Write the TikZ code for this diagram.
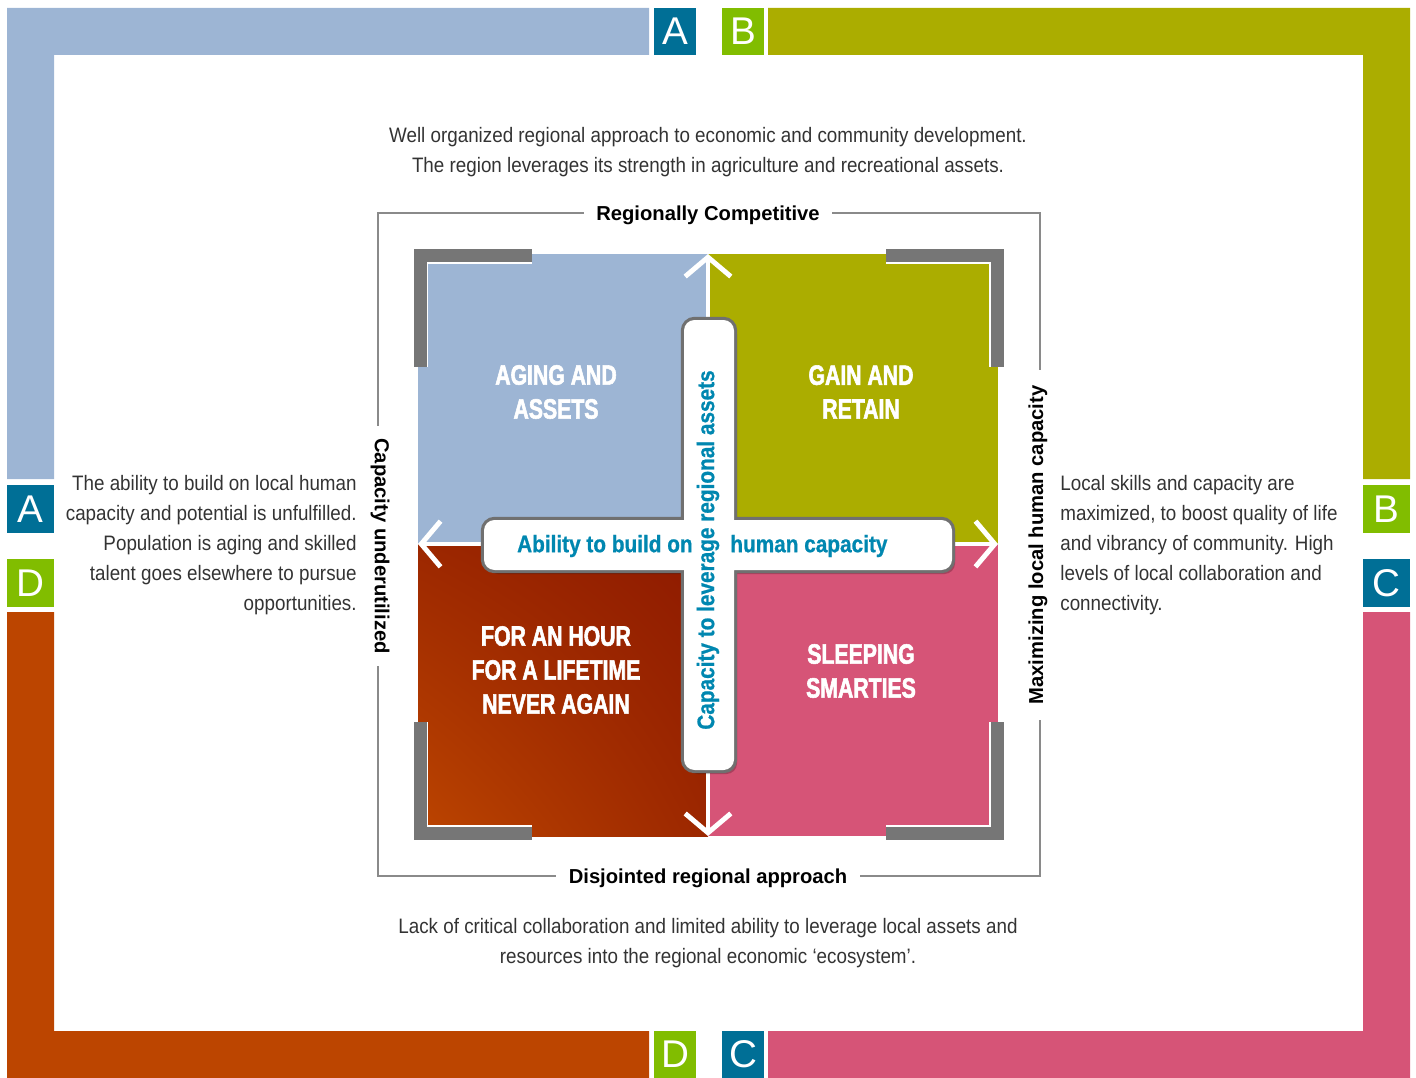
\documentclass[tikz,border=0pt]{standalone}
\usepackage{fontspec}
\setmainfont{Liberation Sans}
\newfontfamily\bodyfont{Liberation Sans}[FakeStretch=0.90]
\newfontfamily\quadfont{Liberation Sans}[FakeStretch=0.76, BoldFeatures={FakeBold=2}]
\newfontfamily\crossfont{Liberation Sans}[FakeStretch=0.87, BoldFeatures={FakeBold=0.8}]
\usetikzlibrary{arrows.meta,shadings}

\definecolor{areablue}{HTML}{9DB5D4}
\definecolor{areaolive}{HTML}{ABAD00}
\definecolor{areapink}{HTML}{D65477}
\definecolor{arearust}{HTML}{BC4500}
\definecolor{areadark}{HTML}{8E1A00}
\definecolor{badgeteal}{HTML}{006F96}
\definecolor{badgegreen}{HTML}{81BD00}
\definecolor{bracketgray}{HTML}{767676}
\definecolor{crossgray}{HTML}{707070}
\definecolor{crossblue}{HTML}{0087B0}
\definecolor{bodygray}{HTML}{333333}
\definecolor{rulegray}{HTML}{8A8A8A}

\begin{document}
\begin{tikzpicture}[x=0.02cm, y=-0.02cm,
  bodytext/.style={text=bodygray, font=\bodyfont\fontsize{11.9}{17}\selectfont, inner sep=0pt},
  quadtitle/.style={text=white, align=center, font=\quadfont\bfseries\fontsize{15.9}{19.3}\selectfont},
  crosstext/.style={text=crossblue, font=\crossfont\bfseries\fontsize{13.6}{16}\selectfont, inner sep=0pt},
  axislabel/.style={fill=white, text=black, font=\bfseries\fontsize{11.5}{14}\selectfont, inner xsep=7pt, inner ysep=2pt},
  badge/.style={fill=#1, text=white, inner sep=0pt, minimum height=0.95cm, font=\fontsize{22}{22}\selectfont},
  bracket/.style={draw=white, double=bracketgray, double distance=7.4pt, line width=0.9pt},
  axis/.style={draw=white, line width=2.8pt, -{Straight Barb[length=11pt, width=26pt]}},
]
\useasboundingbox (0,0) rectangle (1416,1078);
\def\acrossbar{(484,520) rectangle (952,570)}
\def\upbar{(684,320) rectangle (734,770)}

% outer frame
\fill[areablue] (7,8) rectangle (649,55) (7,8) rectangle (54,479);
\fill[areaolive] (768,8) rectangle (1410,55) (1363,8) rectangle (1410,479);
\fill[arearust] (7,612) rectangle (54,1078) (7,1031) rectangle (649,1078);
\fill[areapink] (768,1031) rectangle (1410,1078) (1363,612) rectangle (1410,1078);
\foreach \x/\y/\w/\c/\t/\n in {675/31.5/0.84/badgeteal/A/topA, 743/31.5/0.84/badgegreen/B/topB,
  30.5/509/0.94/badgeteal/A/leftA, 30.5/583/0.94/badgegreen/D/leftD,
  1386.5/509/0.94/badgegreen/B/rightB, 1386.5/583/0.94/badgeteal/C/rightC,
  675/1054.5/0.84/badgegreen/D/bottomD, 743/1054.5/0.84/badgeteal/C/bottomC}
  \node[badge=\c, minimum width=\w cm] (badge\n) at (\x,\y) {\t};

% quadrants
\fill[areablue] (418,254) rectangle (708,544);
\fill[areaolive] (708,254) rectangle (998,544);
\fill[areapink] (708,544) rectangle (998,836);
\shade[lower left=arearust, upper right=areadark, upper left=areadark!70!arearust,
  lower right=areadark!70!arearust] (418,544) rectangle (708,836);

% axes
\coordinate (mid) at (708,544);
\coordinate (northtip) at (708,254);
\coordinate (southtip) at (708,836);
\coordinate (westtip) at (418,544);
\coordinate (easttip) at (998,544);
\foreach \tip in {northtip,southtip,westtip,easttip}
  \draw[axis] (mid) -- (\tip);

% corner brackets
\draw[bracket] (532,255.5) -- (420,255.5) -- (420,367);
\draw[bracket] (886,255.5) -- (997.5,255.5) -- (997.5,367);
\draw[bracket] (420,722) -- (420,833) -- (532,833);
\draw[bracket] (997.5,722) -- (997.5,833) -- (886,833);

% the cross
\begin{scope}[rounded corners=6pt]
\begin{scope}[shift={(3,4)}]
\fill[black, opacity=.22] \acrossbar \upbar;
\end{scope}
\draw[crossgray, line width=3.6pt] \acrossbar \upbar;
\fill[white] \acrossbar \upbar;
\end{scope}
\node[crosstext, anchor=east] (buildleft) at (693,546) {Ability to build on};
\node[crosstext, anchor=west] (buildright) at (730,546) {human capacity};
\node[crosstext, rotate=90] (leverage) at (708,550) {Capacity to leverage regional assets};

\node[quadtitle] (aging) at (556,392) {AGING AND\\ASSETS};
\node[quadtitle] (gain) at (861,392) {GAIN AND\\RETAIN};
\node[quadtitle] (hour) at (556,670) {FOR AN HOUR\\FOR A LIFETIME\\NEVER AGAIN};
\node[quadtitle] (sleeping) at (861,671) {SLEEPING\\SMARTIES};

% inner frame and its labels
\draw[rulegray, line width=0.8pt] (378,213) rectangle (1040,876);
\node[axislabel] (competitive) at (708,215) {Regionally Competitive};
\node[axislabel] (disjointed) at (708,878) {Disjointed regional approach};
\node[axislabel, rotate=-90] (underused) at (380,546) {Capacity underutilized};
\node[axislabel, rotate=90, inner xsep=9pt] (maximizing) at (1038,545) {Maximizing local human capacity};

% notes
\node[bodytext, align=center] (topnote) at (708,152) {Well organized regional approach to economic and community development.\\The region leverages its strength in agriculture and recreational assets.};
\node[bodytext, align=right, anchor=east] (leftnote) at (357,545) {The ability to build on local human\\capacity and potential is unfulfilled.\\Population is aging and skilled\\talent goes elsewhere to pursue\\opportunities.};
\node[bodytext, align=left, anchor=west] (rightnote) at (1060,545) {Local skills and capacity are\\maximized, to boost quality of life\\and vibrancy of community. High\\levels of local collaboration and\\connectivity.};
\node[bodytext, align=center] (bottomnote) at (708,943) {Lack of critical collaboration and limited ability to leverage local assets and\\resources into the regional economic ‘ecosystem’.};
\end{tikzpicture}
\end{document}
